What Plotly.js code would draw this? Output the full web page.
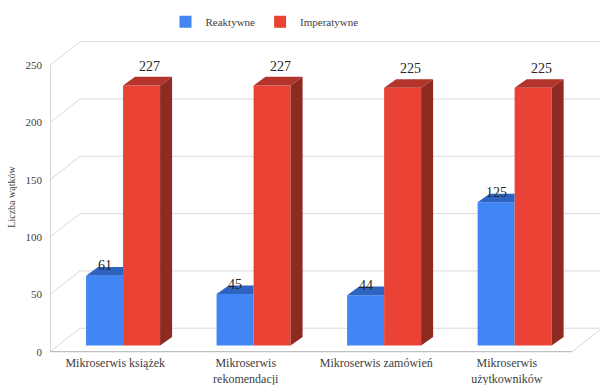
<!DOCTYPE html>
<html>
<head>
<meta charset="utf-8">
<script src="https://cdn.plot.ly/plotly-3.0.1.min.js"></script>
<style>html,body{margin:0;padding:0;background:#fff;}#chart{width:600px;height:385px;}</style>
</head>
<body>
<div id="chart"></div>
<script>
// ---- data ----
var categories = ["Mikroserwis książek", "Mikroserwis<br>rekomendacji", "Mikroserwis zamówień", "Mikroserwis<br>użytkowników"];
var reaktywne = [61, 45, 44, 125];
var imperatywne = [227, 227, 225, 225];
var seriesNames = ["Reaktywne", "Imperatywne"];
var yTicks = [0, 50, 100, 150, 200, 250];

// ---- pseudo-3D geometry (data units) ----
var DX = 0.23, DY = 20.5;        // full depth offset of the back wall
var d1 = 0.26;                   // depth of bar front faces
var ddx = 0.092, ddy = 7.5;      // bar depth
var W = 0.2835;                  // bar width
var xMin = -0.5, xFront = 3.5, xMax = 3.714;

var cx = categories.map(function(_, i){ return i; });
var base = d1 * DY;

var blueX = cx.map(function(c){ return c + d1*DX - W/2; });
var redX  = cx.map(function(c){ return c + d1*DX + W/2; });

function polys(list){
  var xs = [], ys = [];
  list.forEach(function(p){
    p.forEach(function(pt){ xs.push(pt[0]); ys.push(pt[1]); });
    xs.push(p[0][0]); ys.push(p[0][1]);
    xs.push(null); ys.push(null);
  });
  return {x: xs, y: ys};
}

var blueTops = polys(cx.map(function(c, i){
  var xl = blueX[i] - W/2, xr = blueX[i] + W/2, T = base + reaktywne[i];
  return [[xl, T], [xr, T], [xr, T + ddy], [xl + ddx, T + ddy]];
}));
var redTops = polys(cx.map(function(c, i){
  var xl = redX[i] - W/2, xr = redX[i] + W/2, T = base + imperatywne[i];
  return [[xl, T], [xr, T], [xr + ddx, T + ddy], [xl + ddx, T + ddy]];
}));
var redSides = polys(cx.map(function(c, i){
  var xr = redX[i] + W/2, T = base + imperatywne[i];
  return [[xr, base], [xr + ddx, base + ddy], [xr + ddx, T + ddy], [xr, T]];
}));

var blue = '#4285f4', blueTop = '#2f63c2';
var red = '#ea4335', redTop = '#b3342a', redSide = '#8f2a23';

var traces = [
  {type: 'bar', name: seriesNames[0], x: blueX, y: reaktywne, base: base, width: W,
   marker: {color: blue, line: {width: 0}}, hoverinfo: 'skip'},
  {type: 'bar', name: seriesNames[1], x: redX, y: imperatywne, base: base, width: W,
   marker: {color: red, line: {width: 0}}, hoverinfo: 'skip'},
  {type: 'scatter', mode: 'lines', x: blueTops.x, y: blueTops.y, fill: 'toself', fillcolor: blueTop,
   line: {width: 0, color: blueTop}, showlegend: false, hoverinfo: 'skip'},
  {type: 'scatter', mode: 'lines', x: redTops.x, y: redTops.y, fill: 'toself', fillcolor: redTop,
   line: {width: 0, color: redTop}, showlegend: false, hoverinfo: 'skip'},
  {type: 'scatter', mode: 'lines', x: redSides.x, y: redSides.y, fill: 'toself', fillcolor: redSide,
   line: {width: 0, color: redSide}, showlegend: false, hoverinfo: 'skip'}
];

// ---- walls / grid ----
var shapes = [];
var gridCol = '#d9d9d9';
yTicks.forEach(function(v){
  shapes.push({type: 'line', xref: 'x', yref: 'y', x0: xMin, y0: v, x1: xMin + DX, y1: v + DY,
               line: {color: gridCol, width: 1}, layer: 'below'});
  shapes.push({type: 'line', xref: 'x', yref: 'y', x0: xMin + DX, y0: v + DY, x1: xMax, y1: v + DY,
               line: {color: gridCol, width: 1}, layer: 'below'});
});
shapes.push({type: 'line', xref: 'x', yref: 'y', x0: xMin, y0: 0, x1: xFront, y1: 0,
             line: {color: '#bfbfbf', width: 1.3}, layer: 'below'});
shapes.push({type: 'line', xref: 'x', yref: 'y', x0: xFront, y0: 0, x1: xFront + DX, y1: DY,
             line: {color: gridCol, width: 1}, layer: 'below'});
shapes.push({type: 'line', xref: 'x', yref: 'y', x0: xMin, y0: 0, x1: xMin, y1: yTicks[yTicks.length-1],
             line: {color: '#bfbfbf', width: 1.3}, layer: 'below'});

var serif = 'Liberation Serif, Times New Roman, serif';

// ---- data labels ----
var annotations = [];
var lblFont = {family: serif, size: 14, color: '#262626'};
cx.forEach(function(c, i){
  annotations.push({x: blueX[i], y: base + reaktywne[i], xref: 'x', yref: 'y', text: String(reaktywne[i]),
    showarrow: false, yanchor: 'middle', xanchor: 'center', yshift: 10, xshift: 0, font: lblFont});
  annotations.push({x: redX[i], y: base + imperatywne[i], xref: 'x', yref: 'y', text: String(imperatywne[i]),
    showarrow: false, yanchor: 'middle', xanchor: 'center', yshift: 19, xshift: 8, font: lblFont});
});

var layout = {
  width: 600, height: 385,
  margin: {l: 50, r: 0, t: 40, b: 30.5},
  paper_bgcolor: '#ffffff', plot_bgcolor: 'rgba(0,0,0,0)',
  barmode: 'overlay',
  showlegend: true,
  legend: {orientation: 'h', x: 0.39, xanchor: 'center', y: 1.058, yanchor: 'middle',
           font: {family: serif, size: 11, color: '#404040'}, itemwidth: 30},
  xaxis: {range: [xMin, xMax], tickvals: cx, ticktext: categories, showgrid: false, zeroline: false,
          showline: false, ticks: '', tickfont: {family: serif, size: 12, color: '#404040'}, fixedrange: true},
  yaxis: {range: [-2, 272], tickvals: yTicks, showgrid: false, zeroline: false, showline: false, ticks: '',
          ticklabelstandoff: 7, tickfont: {family: serif, size: 11, color: '#404040'},
          title: {text: 'Liczba wątków', font: {family: serif, size: 10, color: '#404040'}, standoff: 8},
          fixedrange: true},
  shapes: shapes,
  annotations: annotations
};

Plotly.newPlot('chart', traces, layout, {displayModeBar: false, staticPlot: true});
</script>
</body>
</html>
